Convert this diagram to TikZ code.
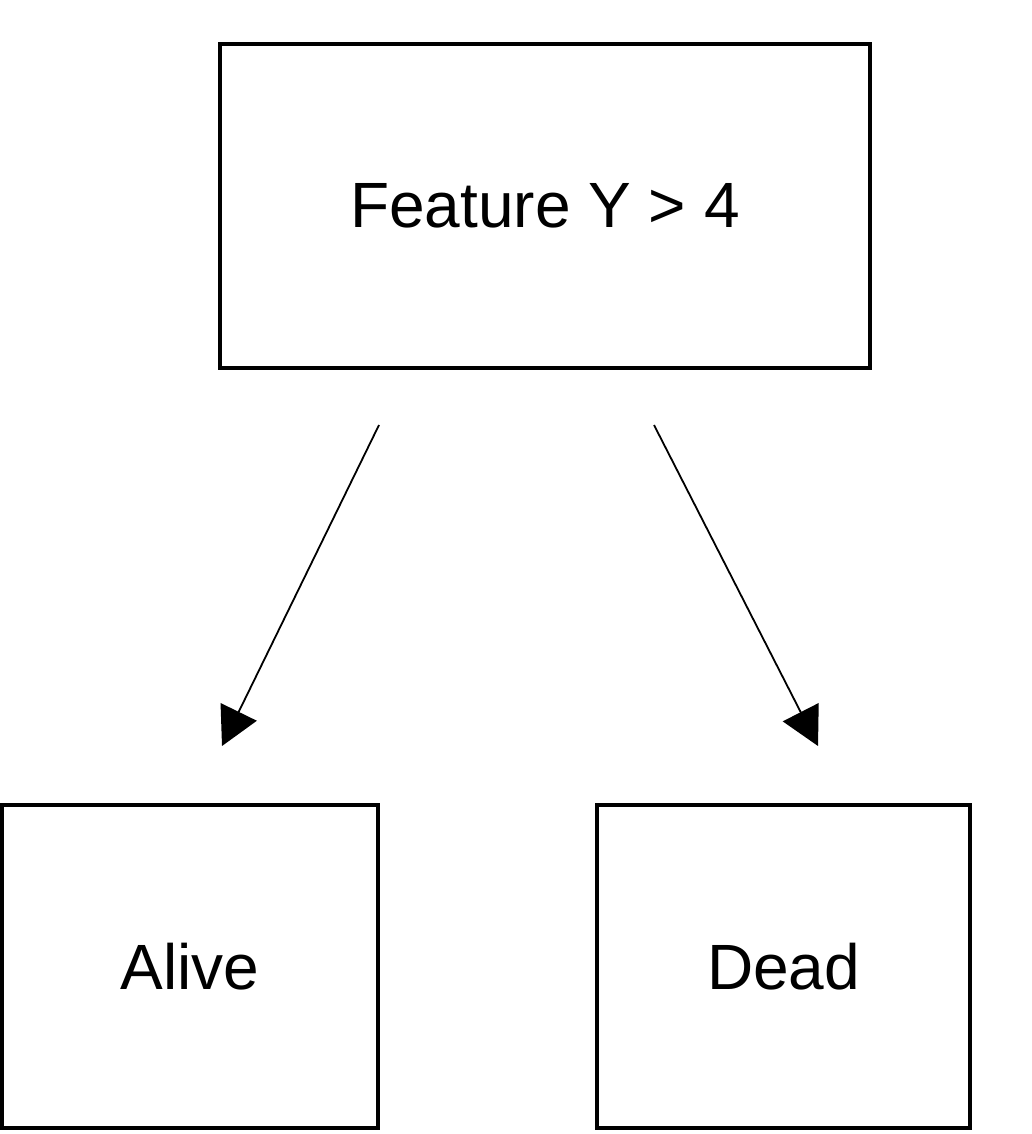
\documentclass[tikz,border=0pt]{standalone}
\usepackage{fontspec}
\setmainfont{Liberation Sans}
\usetikzlibrary{arrows.meta}

\begin{document}
\begin{tikzpicture}[x=0.5pt,y=-0.5pt,
    box/.style={draw,line width=2pt,inner sep=0pt,font=\fontsize{32}{39}\selectfont},
    link/.style={line width=0.9pt,-{Triangle[length=19pt,width=20pt]}}]
  \def\lowy{966.5};
  \useasboundingbox (0,0) rectangle (1032,1134);

  \node[box,minimum width=325pt,minimum height=162pt] (feature) at (545,206) {Feature Y > 4};
  \node[box,minimum width=188pt,minimum height=161.5pt] (alive) at (190,\lowy) {Alive};
  \node[box,minimum width=186.5pt,minimum height=161.5pt] (dead) at (783.5,\lowy) {Dead};

  % free ends of the two branches
  \coordinate (fromleft) at (379,425);
  \coordinate (toalive) at (222,746);
  \coordinate (fromright) at (654,425);
  \coordinate (todead) at (818,746);

  \foreach \a/\b in {fromleft/toalive, fromright/todead} {  %for each branch
    \draw[link] (\a) -- (\b);
  }
\end{tikzpicture}
\end{document}
